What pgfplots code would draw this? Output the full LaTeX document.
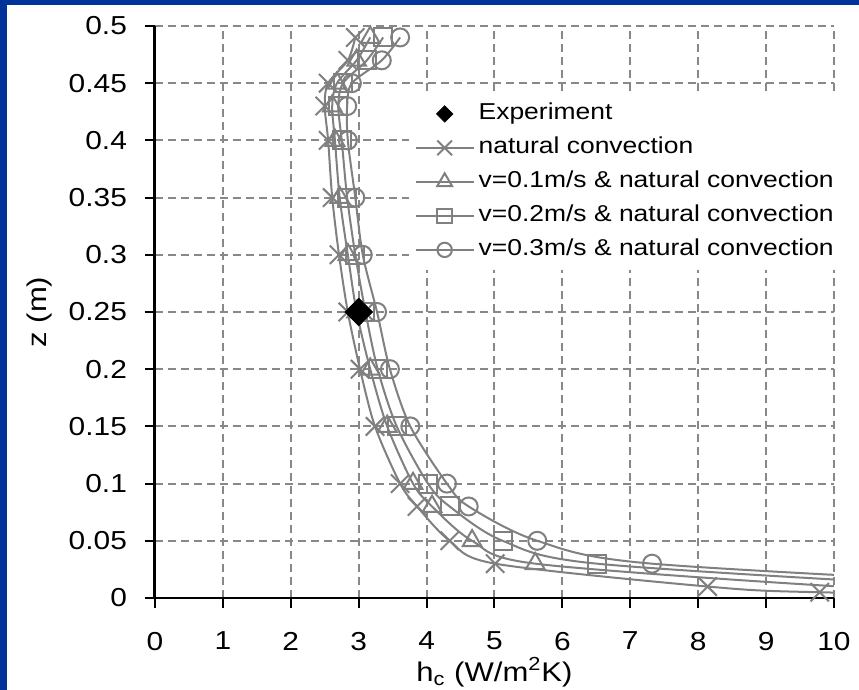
\documentclass[border=0pt]{standalone}
\usepackage{pgfplots}
\pgfplotsset{compat=1.18}
\usepackage{fontspec}
\setmainfont{Liberation Sans}[FakeStretch=1.15]
\definecolor{bgblue}{RGB}{0,51,153}
\definecolor{sergray}{RGB}{128,128,128}
\definecolor{gridgray}{RGB}{136,136,136}
\pgfplotsset{mylegend/.style={legend image code/.code={\draw[mark repeat=2,mark phase=2,every mark/.append style={scale=0.8}] plot coordinates {(0pt,0pt)(14.5pt,0pt)(29pt,0pt)};}}}
\begin{document}
\begin{tikzpicture}
\path[use as bounding box, fill=white] (0,0) rectangle (429.5pt,345pt);
\fill[bgblue] (0,0) rectangle (3.5pt,345pt);
\fill[bgblue] (0,342.5pt) rectangle (429.5pt,345pt);
\begin{axis}[
  at={(77.5pt,46pt)}, anchor=south west,
  scale only axis, width=339.5pt, height=286pt,
  xmin=0, xmax=10, ymin=0, ymax=0.5,
  xtick={0,1,2,3,4,5,6,7,8,9,10},
  ytick={0,0.05,0.1,0.15,0.2,0.25,0.3,0.35,0.4,0.45,0.5},
  axis lines=left, axis line style={-},
  x axis line style={line width=1pt},
  y axis line style={line width=1.5pt},
  tick align=outside, major tick length=5pt,
  tick style={black, line width=1pt},
  grid=major, grid style={gridgray, dash pattern=on 4pt off 2.5pt, line width=1pt},
  ticklabel style={font=\fontsize{13}{15}\selectfont},
  xticklabel style={yshift=-8.5pt},
  yticklabel style={xshift=-5.5pt},
  /pgf/number format/assume math mode=true,
  yticklabel style={/pgf/number format/fixed, /pgf/number format/precision=2},
  xlabel={h\textsubscript{c} (W/m\textsuperscript{2}K)},
  ylabel={z (m)},
  xlabel style={font=\fontsize{13.5}{16}\selectfont, at={(axis description cs:0.5,0)}, anchor=center, yshift=-37pt},
  ylabel style={font=\fontsize{13.5}{16}\selectfont, at={(axis description cs:-0.1694,0.5)}, anchor=center},
  legend style={at={(rel axis cs:0.373,0.882)}, anchor=north west, draw=none, fill=white,
    font=\fontsize{11.5}{13}\selectfont, row sep=1pt,
    nodes={inner sep=2pt, text height=9pt, text depth=3pt}},
  legend cell align=left,
]
\addplot[only marks, mark=square*, mark size=4.8pt, mark options={rotate=45, fill=black, draw=black},
  legend image code/.code={\draw[every mark/.append style={scale=0.6}] plot coordinates {(14.5pt,0pt)};}]
  coordinates {(3.0,0.25)};
\addlegendentry{Experiment}
\addplot[sergray, line width=1pt, smooth, mark=x, mark size=6.5pt, mylegend]
  coordinates {(2.95,0.49)(2.84,0.47)(2.55,0.45)(2.50,0.43)(2.55,0.40)(2.61,0.35)(2.71,0.30)(2.84,0.25)(3.02,0.20)(3.24,0.15)(3.61,0.10)(3.86,0.08)(4.34,0.05)(5.01,0.03)(8.14,0.01)(9.79,0.005)(14.6,0.001)};
\addlegendentry{natural convection}
\addplot[sergray, line width=1pt, smooth, mark=triangle, mark size=5.4pt, mark options={solid}, mylegend]
  coordinates {(3.17,0.49)(2.97,0.47)(2.68,0.45)(2.61,0.43)(2.65,0.40)(2.72,0.35)(2.84,0.30)(2.97,0.25)(3.17,0.20)(3.42,0.15)(3.80,0.10)(4.08,0.08)(4.67,0.05)(5.60,0.03)(10.1,0.01)(13,0.005)};
\addlegendentry{v=0.1m/s \& natural convection}
\addplot[sergray, line width=1pt, smooth, mark=square, mark size=4.5pt, mark options={solid}, mylegend]
  coordinates {(3.36,0.49)(3.12,0.47)(2.77,0.45)(2.70,0.43)(2.75,0.40)(2.83,0.35)(2.95,0.30)(3.10,0.25)(3.28,0.20)(3.56,0.15)(4.02,0.10)(4.34,0.08)(5.12,0.05)(6.51,0.03)(12,0.01)(16,0.005)};
\addlegendentry{v=0.2m/s \& natural convection}
\addplot[sergray, line width=1pt, smooth, mark=o, mark size=4.5pt, mark options={solid}, mylegend]
  coordinates {(3.61,0.49)(3.34,0.47)(2.90,0.45)(2.83,0.43)(2.84,0.40)(2.95,0.35)(3.06,0.30)(3.27,0.25)(3.46,0.20)(3.76,0.15)(4.30,0.10)(4.62,0.08)(5.63,0.05)(7.32,0.03)(13.5,0.01)(17,0.005)};
\addlegendentry{v=0.3m/s \& natural convection}
\addplot[only marks, mark=square*, mark size=4.8pt, mark options={rotate=45, fill=black, draw=black}, forget plot]
  coordinates {(3.0,0.25)};
\end{axis}
\end{tikzpicture}
\end{document}
